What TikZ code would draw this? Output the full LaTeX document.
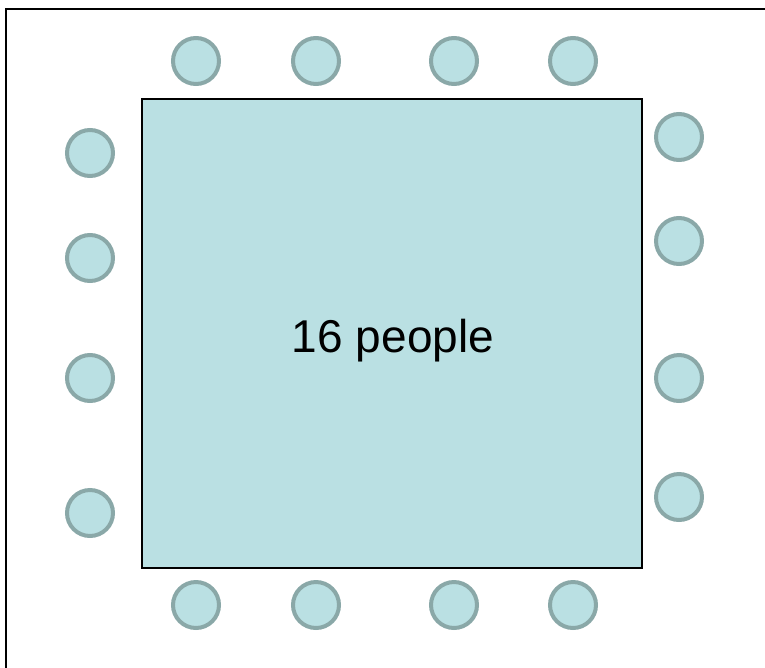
\documentclass[tikz,border=0pt]{standalone}
\usepackage{fontspec}
\setmainfont{Liberation Sans}
\definecolor{seatfill}{HTML}{BAE0E3}
\definecolor{seatline}{HTML}{8AA8A8}
\begin{document}
\begin{tikzpicture}[x=1pt,y=-1pt,
  seat/.style={circle,draw=seatline,fill=seatfill,line width=4pt,minimum size=46pt,inner sep=0pt},
  tablebox/.style={draw=black,fill=seatfill,line width=1.2pt,minimum width=500pt,minimum height=469pt,inner sep=0pt},
  tabletext/.style={font=\fontsize{46}{55}\selectfont,inner sep=0pt}]
\useasboundingbox (0,0) rectangle (765,667);
\clip (0,0) rectangle (765,667);
\draw[line width=2.6pt] (6,9) coordinate (f1) rectangle (790,700) coordinate (f2);
\node[tablebox] (table) at (392,333.5) {};
\node[tabletext,anchor=base] (label) at (393,352) {16 people};
% top seats
\node[seat] (t1) at (196,61) {};
\node[seat] (t2) at (316,61) {};
\node[seat] (t3) at (454,61) {};
\node[seat] (t4) at (573,61) {};
% bottom seats
\node[seat] (b1) at (196,605) {};
\node[seat] (b2) at (316,605) {};
\node[seat] (b3) at (454,605) {};
\node[seat] (b4) at (573,605) {};
% left seats
\node[seat] (l1) at (90,153) {};
\node[seat] (l2) at (90,258) {};
\node[seat] (l3) at (90,378) {};
\node[seat] (l4) at (90,513) {};
% right seats
\node[seat] (r1) at (679,137) {};
\node[seat] (r2) at (679,241) {};
\node[seat] (r3) at (679,378) {};
\node[seat] (r4) at (679,497) {};
\end{tikzpicture}
\end{document}
